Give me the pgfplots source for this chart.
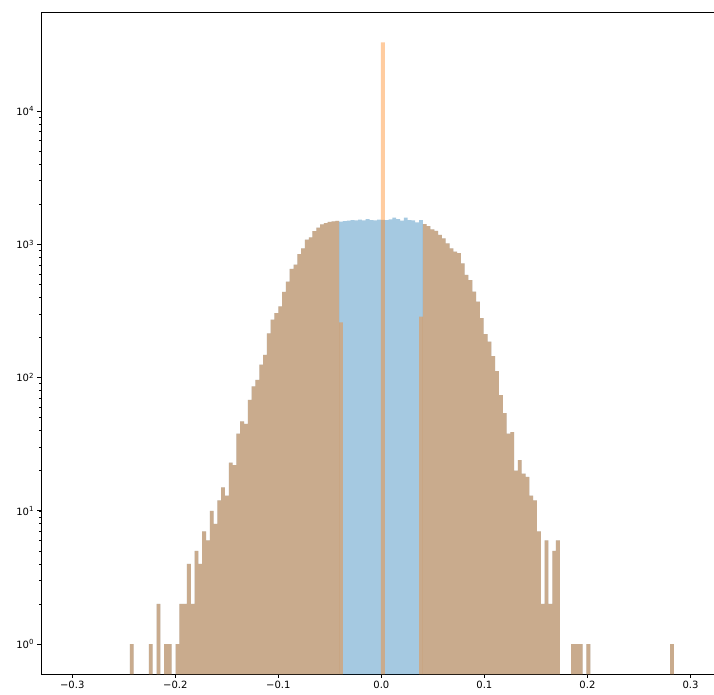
\documentclass[border=0pt]{standalone}
\usepackage{fontspec}
\setmainfont{DejaVu Sans}
\usepackage{pgfplots}
\usepackage{pgfplotstable}
\pgfplotsset{compat=1.18}
\definecolor{tabblue}{HTML}{1F77B4}
\definecolor{taborange}{HTML}{FF7F0E}

% bin centre, count (bins outside |x|<0.04, identical in both histograms)
\pgfplotstableread{
x y
-0.2422 1
-0.2237 1
-0.2163 2
-0.2090 1
-0.2053 1
-0.1979 1
-0.1942 2
-0.1905 2
-0.1868 4
-0.1831 2
-0.1794 5
-0.1757 4
-0.1720 7
-0.1683 6
-0.1646 10
-0.1610 8
-0.1573 12
-0.1536 15
-0.1499 13
-0.1462 23
-0.1425 22
-0.1388 38
-0.1351 47
-0.1314 45
-0.1277 68
-0.1240 86
-0.1203 96
-0.1166 125
-0.1130 148
-0.1093 215
-0.1056 272
-0.1019 305
-0.0982 343
-0.0945 440
-0.0908 524
-0.0871 654
-0.0834 704
-0.0797 843
-0.0760 931
-0.0723 1085
-0.0686 1130
-0.0650 1255
-0.0613 1334
-0.0576 1413
-0.0539 1440
-0.0502 1475
-0.0465 1490
-0.0428 1500
0.0421 1420
0.0458 1372
0.0495 1295
0.0532 1259
0.0569 1175
0.0606 1109
0.0643 1017
0.0680 933
0.0717 881
0.0753 860
0.0790 720
0.0827 589
0.0864 539
0.0901 442
0.0938 372
0.0975 279
0.1012 212
0.1049 186
0.1086 145
0.1123 112
0.1160 74
0.1197 54
0.1233 38
0.1270 39
0.1307 20
0.1344 24
0.1381 19
0.1418 18
0.1455 13
0.1492 12
0.1529 7
0.1566 2
0.1603 6
0.1640 2
0.1677 5
0.1713 6
0.1861 1
0.1898 1
0.1935 1
0.2009 1
0.2821 1
}\tails

\pgfplotstableread{
x y
-0.0391 1479
-0.0354 1496
-0.0317 1504
-0.0280 1521
-0.0243 1512
-0.0207 1530
-0.0170 1512
-0.0133 1547
-0.0096 1521
-0.0059 1512
-0.0022 1530
0.0015 1525
0.0052 1521
0.0089 1539
0.0126 1583
0.0163 1547
0.0200 1504
0.0237 1583
0.0274 1521
0.0310 1512
0.0347 1462
0.0384 1521
}\bluecenter

\pgfplotstableread{
x y
-0.0391 260
0.0015 32800
0.0384 287
}\orangecenter

\begin{document}
\begin{tikzpicture}
\useasboundingbox (-41pt,-20.7pt) rectangle (673pt,674.3pt);
\begin{axis}[
  scale only axis,
  width=680.7pt, height=662.3pt,
  xmin=-0.3303, xmax=0.3303,
  ymode=log, ymin=0.5935, ymax=55400,
  log origin y=infty,
  xtick={-0.3,-0.2,-0.1,0,0.1,0.2,0.3},
  xticklabels={−0.3,−0.2,−0.1,0.0,0.1,0.2,0.3},
  ytick={1,10,100,1000,10000},
  yticklabels={10\textsuperscript{0},10\textsuperscript{1},10\textsuperscript{2},10\textsuperscript{3},10\textsuperscript{4}},
  tick pos=left, tick align=outside,
  major tick length=3.5pt, minor tick length=2pt,
  every tick/.append style={black, line width=0.8pt},
  every minor tick/.append style={line width=0.6pt},
  axis line style={line width=0.8pt, black},
  ticklabel style={font=\fontsize{10}{12}\selectfont, text=black},
]
\addplot[ybar, bar width=0.0036922, bar shift=0pt, fill=tabblue, fill opacity=0.4, draw=none] table[x=x,y=y] {\tails};
\addplot[ybar, bar width=0.0036922, bar shift=0pt, fill=tabblue, fill opacity=0.4, draw=none] table[x=x,y=y] {\bluecenter};
\addplot[ybar, bar width=0.0036922, bar shift=0pt, fill=taborange, fill opacity=0.4, draw=none] table[x=x,y=y] {\tails};
\addplot[ybar, bar width=0.0036922, bar shift=0pt, fill=taborange, fill opacity=0.4, draw=none] table[x=x,y=y] {\orangecenter};
\end{axis}
\end{tikzpicture}
\end{document}
